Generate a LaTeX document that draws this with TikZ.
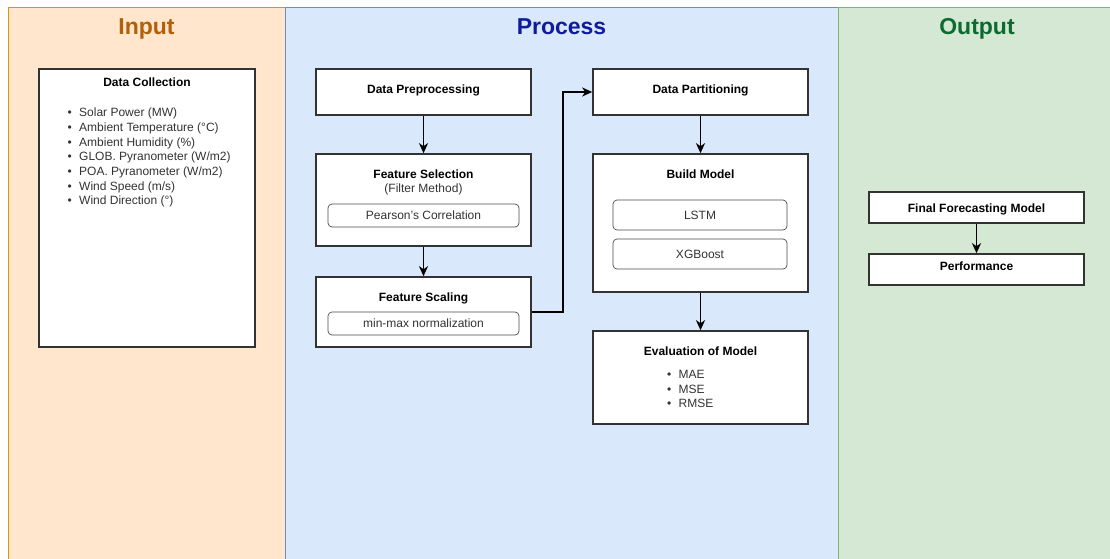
\documentclass[tikz,border=0pt]{standalone}
\usepackage{fontspec}
\setmainfont{Liberation Sans}
\usetikzlibrary{arrows.meta}
\definecolor{inFill}{HTML}{FFE6CC}
\definecolor{inLine}{HTML}{D79B00}
\definecolor{inText}{HTML}{B25F0A}
\definecolor{prFill}{HTML}{DAE8FC}
\definecolor{prLine}{HTML}{6C8EBF}
\definecolor{prText}{HTML}{0F1A9E}
\definecolor{ouFill}{HTML}{D5E8D4}
\definecolor{ouLine}{HTML}{82B366}
\definecolor{ouText}{HTML}{0B6B30}
\definecolor{boxLine}{HTML}{333333}
\definecolor{bodyText}{HTML}{333333}
\tikzset{
  panel/.style={draw, line width=0.8pt},
  paneltitle/.style={font=\fontsize{23}{26}\selectfont\bfseries, inner sep=0pt, anchor=base},
  stepbox/.style={draw=boxLine, fill=white, line width=1.6pt, inner sep=0pt},
  subbox/.style={draw=black!70, fill=white, rounded corners=4pt, line width=0.7pt,
    inner sep=0pt, font=\fontsize{12}{14}\selectfont, text=bodyText},
  boxtitle/.style={font=\fontsize{12}{14}\selectfont\bfseries, inner sep=0pt, text=black, anchor=base},
  bodytext/.style={font=\fontsize{12}{14}\selectfont, inner sep=0pt, text=bodyText, anchor=base},
  item/.style={bodytext, anchor=base west},
  flow/.style={draw=black, line width=1.7pt, -{Stealth[length=10pt,width=9pt,inset=3pt]}}
}
\newcommand{\itm}{\makebox[11.5pt][l]{\textbullet}}
\begin{document}
\begin{tikzpicture}[x=1pt,y=-1pt]
\useasboundingbox (0,0) rectangle (1110,558);
\begin{scope}
\clip (0,0) rectangle (1110,558);
% swimlanes
\draw[panel, fill=inFill, draw=inLine] (8.5,7.5) rectangle (285,565);
\draw[panel, fill=prFill, draw=prLine] (285,7.5) rectangle (838.5,565);
\draw[panel, fill=ouFill, draw=ouLine] (838.5,7.5) rectangle (1115,565);
\end{scope}
\node[paneltitle, text=inText] (tin) at (146.5,34) {Input};
\node[paneltitle, text=prText] (tpr) at (561.5,34) {Process};
\node[paneltitle, text=ouText] (tou) at (977,34) {Output};

% input column
\node[stepbox, minimum width=216pt, minimum height=278pt] (dc) at (147,208) {};
\node[boxtitle] (dct) at (147,86) {Data Collection};
\foreach \txt [count=\i] in {Solar Power (MW), Ambient Temperature (°C),
    Ambient Humidity (\%), GLOB. Pyranometer (W/m2), POA. Pyranometer (W/m2),
    Wind Speed (m/s), Wind Direction (°)}
  \node[item] (dc\i) at (67.5,{116.7+14.7*(\i-1)}) {\itm\txt};

% process, first column
\node[stepbox, minimum width=215pt, minimum height=46pt] (pre) at (423.5,92) {};
\node[boxtitle] (pret) at (423.5,93) {Data Preprocessing};
\node[stepbox, minimum width=215pt, minimum height=92pt] (fsel) at (423.5,200) {};
\node[boxtitle] (fselt) at (423.5,178.5) {Feature Selection};
\node[bodytext] (fselm) at (423.5,192.5) {(Filter Method)};
\node[subbox, minimum width=191pt, minimum height=23pt] (pc) at (423.5,215.5) {Pearson's Correlation};
\node[stepbox, minimum width=215pt, minimum height=70pt] (fsc) at (423.5,312) {};
\node[boxtitle] (fsct) at (423.5,301.5) {Feature Scaling};
\node[subbox, minimum width=191pt, minimum height=23pt] (mm) at (423.5,323.5) {min-max normalization};

% process, second column
\node[stepbox, minimum width=215pt, minimum height=46pt] (part) at (700.5,92) {};
\node[boxtitle] (partt) at (700.5,93) {Data Partitioning};
\node[stepbox, minimum width=215pt, minimum height=138pt] (bm) at (700.5,223) {};
\node[boxtitle] (bmt) at (700.5,178) {Build Model};
\node[subbox, minimum width=174pt, minimum height=30pt] (lstm) at (700,215) {LSTM};
\node[subbox, minimum width=174pt, minimum height=30pt] (xgb) at (700,254) {XGBoost};
\node[stepbox, minimum width=215pt, minimum height=93pt] (ev) at (700.5,377.5) {};
\node[boxtitle] (evt) at (700.5,355.5) {Evaluation of Model};
\foreach \txt [count=\i] in {MAE, MSE, RMSE}
  \node[item] (ev\i) at (667,{378.5+14.5*(\i-1)}) {\itm\txt};

% output column
\node[stepbox, minimum width=215pt, minimum height=31pt] (ffm) at (976.5,207.5) {};
\node[boxtitle] (ffmt) at (976.5,212) {Final Forecasting Model};
\node[stepbox, minimum width=215pt, minimum height=31pt] (perf) at (976.5,269.5) {};
\node[boxtitle] (perft) at (976.5,270.5) {Performance};

% connectors
\draw[flow] (pre.south) -- (fsel.north);
\draw[flow] (fsel.south) -- (fsc.north);
\draw[flow] (fsc.east) -- ++(31,0) |- (part.west);
\draw[flow] (part.south) -- (bm.north);
\draw[flow] (bm.south) -- (ev.north);
\draw[flow] (ffm.south) -- (perf.north);
\end{tikzpicture}
\end{document}
